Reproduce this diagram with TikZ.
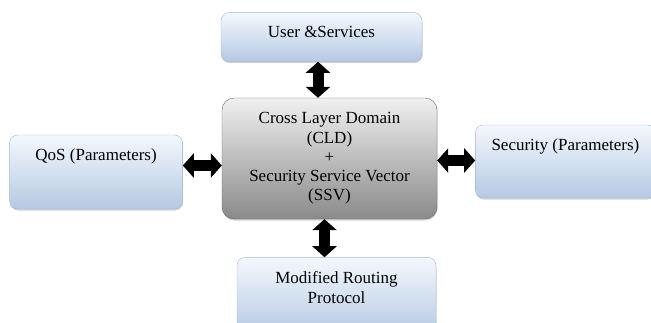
\documentclass[tikz,border=0pt]{standalone}
\usepackage{fontspec}
\setmainfont{Liberation Serif}
\usepackage{xcolor}
\usetikzlibrary{positioning, arrows.meta, shadows}
\definecolor{bluetop}{HTML}{F4F8FD}
\definecolor{bluebot}{HTML}{B4C9E3}
\definecolor{blueline}{HTML}{9FB8D6}
\definecolor{greytop}{HTML}{F0F0F0}
\definecolor{greybot}{HTML}{8A8A8A}
\tikzset{
    bnode/.style = {rounded corners=8pt, draw=blueline, top color=bluetop, bottom color=bluebot,
                    drop shadow={shadow xshift=0.5pt, shadow yshift=-1.5pt, opacity=0.35}},
    cnode/.style = {rounded corners=12pt, draw=black!60, top color=greytop, bottom color=greybot,
                    drop shadow={shadow xshift=0.5pt, shadow yshift=-1.5pt, opacity=0.35},
                    minimum width=215pt, minimum height=121pt, align=center},
    toptext/.style = {anchor=north, yshift=-10pt, align=center},
    dblarrow/.style = {line width=11pt, {Triangle[width=24pt, length=11pt]}-{Triangle[width=24pt, length=11pt]}}
}

\begin{document}
\begin{tikzpicture}[x=1pt, y=1pt, font=\fontsize{17}{19.3}\selectfont]
\useasboundingbox (0,0) rectangle (651,-322);
\node[cnode] (cld) at (329.5,-158.5) {Cross Layer Domain\\(CLD)\\+\\Security Service Vector\\(SSV)};
\node[bnode, minimum width=201pt, minimum height=49pt, above=36pt of cld, xshift=-8pt,
      label={[toptext]north:User \&Services}] (user) {};
\node[bnode, minimum width=173pt, minimum height=74pt, left=39pt of cld, yshift=-13.5pt,
      label={[toptext]north:QoS (Parameters)}] (qos) {};
\node[bnode, minimum width=180pt, minimum height=73pt, right=38pt of cld, yshift=-3pt,
      label={[toptext]north:Security (Parameters)}] (sec) {};
\node[bnode, minimum width=199pt, minimum height=78pt, below=38pt of cld, xshift=7pt,
      label={[toptext, yshift=-1pt]north:Modified Routing\\Protocol}] (mrp) {};
% arrows between the boxes
\draw[dblarrow] ([xshift=-11.5pt]cld.north) -- ([xshift=-11.5pt]cld.north |- user.south);
\draw[dblarrow] ([xshift=-5pt]cld.south) -- ([xshift=-5pt]cld.south |- mrp.north);
\draw[dblarrow] ([yshift=-7pt]cld.west) -- ([yshift=-7pt]cld.west -| qos.east);
\draw[dblarrow] ([yshift=-2pt]cld.east) -- ([yshift=-2pt]cld.east -| sec.west);
\end{tikzpicture}
\end{document}
